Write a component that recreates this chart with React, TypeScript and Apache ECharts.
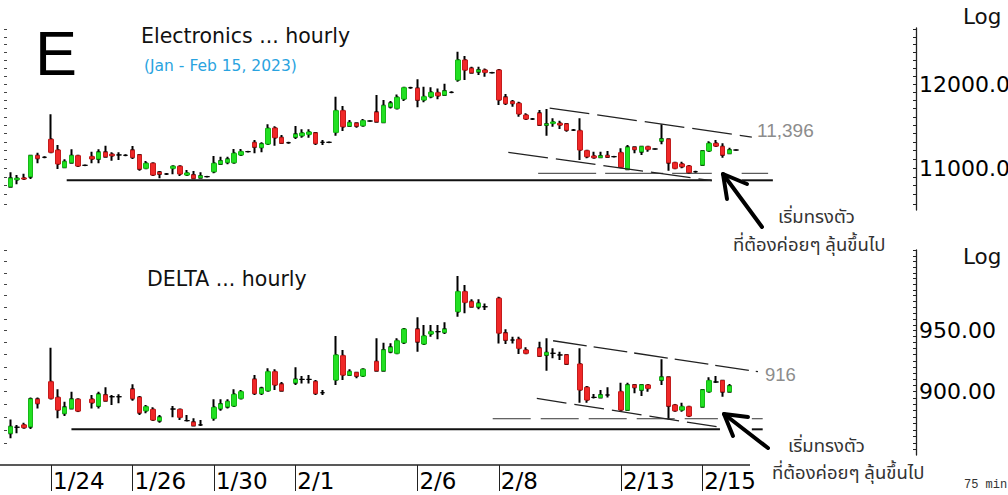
import React, { useEffect, useRef } from 'react';
import * as echarts from 'echarts';

// ---- categories (6 bars of 75 min per trading day) ----
const DAYS = ['1/23','1/24','1/25','1/26','1/27','1/30','1/31','2/1','2/2','2/3','2/6','2/7','2/8','2/9','2/10','2/13','2/14','2/15'];
const LABELED_DAYS = ['1/24','1/26','1/30','2/1','2/6','2/8','2/13','2/15'];
const BARS_PER_DAY = 6;
const EMPTY_SLOTS = 26;

// ---- Electronics (top panel) ----
const TOP_OPEN = [10789,10868,10887,10902,11141,11123,11332,11207,11008,11061,
11141,11031,11130,11104,11181,11158,11150,11146,11204,11150,
10997,11054,10951,10932,10997,11020,10921,10921,10890,10902,
10958,11046,11066,11061,11150,11188,11292,11238,11277,11465,
11351,11292,11359,11374,11391,11406,11297,11297,11414,11673,
11489,11521,11493,11549,11653,11533,11721,11701,11815,11954,
11946,11803,11843,11892,11864,11897,12050,12302,12196,12154,
12175,12141,12175,11836,11782,11762,11621,11573,11641,11501,
11521,11521,11513,11441,11433,11199,11138,11123,11141,11130,
11176,10985,11238,11188,11245,11219,11315,11332,11061,11046,
11023,10958,11035,11196,11285,11245,11169,11207];
const TOP_CLOSE = [10884,10884,10876,11141,11112,11123,11181,11046,11072,11141,
11023,11031,11104,11181,11130,11141,11150,11146,11123,10989,
11054,10921,10932,10932,11020,10932,10944,10884,10910,10902,
11054,11081,11100,11169,11188,11188,11242,11277,11461,11351,
11288,11292,11391,11406,11418,11285,11297,11297,11673,11481,
11529,11489,11553,11549,11541,11733,11762,11836,11954,11954,
11803,11843,11897,11855,11913,11897,12302,12175,12141,12175,
12146,12141,11803,11762,11762,11633,11573,11573,11501,11513,
11537,11501,11441,11441,11207,11130,11118,11138,11127,11130,
11008,11238,11215,11245,11215,11219,11335,11061,10997,11015,
10947,10958,11196,11285,11253,11150,11207,11207];
const TOP_LOW = [10789,10816,10868,10876,11054,11123,11181,10989,10997,11054,
11023,11031,11054,11054,11118,11084,11092,11146,11104,10969,
10997,10921,10884,10932,10929,10910,10913,10884,10884,10902,
10940,11035,11043,11054,11141,11188,11169,11181,11265,11257,
11288,11292,11335,11351,11351,11265,11265,11297,11374,11430,
11481,11469,11481,11549,11541,11533,11701,11701,11790,11954,
11714,11775,11823,11811,11864,11897,12029,12050,12134,12113,
12091,12141,11742,11742,11721,11601,11573,11573,11501,11374,
11481,11453,11421,11441,11092,11112,11118,11112,11118,11130,
11008,10977,11169,11150,11188,11219,11273,10969,10985,10997,
10932,10958,11035,11188,11245,11118,11169,11207];
const TOP_HIGH = [10951,10921,10936,11141,11176,11123,11629,11265,11100,11215,
11141,11031,11188,11215,11257,11181,11181,11146,11253,11158,
11081,11054,10966,10932,11020,11020,10977,10966,10951,10902,
11138,11130,11130,11219,11219,11188,11324,11297,11509,11485,
11383,11292,11489,11450,11450,11414,11324,11297,11843,11729,
11561,11521,11573,11549,11864,11803,11790,11872,11962,11954,
12059,11966,11959,11946,12004,11897,12407,12353,12217,12217,
12196,12141,12175,11876,11803,11782,11641,11573,11681,11693,
11581,11553,11521,11441,11581,11207,11188,11188,11196,11130,
11227,11265,11238,11245,11245,11219,11509,11332,11061,11072,
11023,10958,11196,11310,11324,11285,11234,11207];

// ---- DELTA (bottom panel) ----
const BOT_OPEN = [867.5,872.1,873.9,872.5,894.0,null,908.0,895.5,882.9,886.8,
894.0,null,894.0,888.7,897.4,896.0,896.0,null,901.9,895.5,
884.9,886.0,877.2,null,886.3,886.0,877.2,876.0,873.9,null,
879.0,886.8,888.1,888.7,894.7,null,909.9,898.7,900.8,916.1,
906.0,null,907.2,909.9,909.9,908.0,899.2,null,909.4,929.2,
913.4,915.3,912.6,null,924.3,916.9,932.5,931.2,940.0,null,
951.2,938.9,947.3,949.2,948.7,null,966.2,983.5,974.7,970.4,
970.4,null,977.7,948.0,942.2,942.8,933.9,null,935.3,929.8,
931.2,929.8,929.8,null,922.4,903.5,895.5,895.5,897.4,null,
900.0,885.5,905.4,901.4,905.4,null,909.4,911.7,889.5,885.5,
888.1,null,888.1,900.0,907.8,908.9,900.0,null];
const BOT_CLOSE = [872.5,872.1,871.8,894.2,890.8,null,894.7,885.5,887.6,894.0,
884.7,null,891.3,897.9,892.8,896.0,896.0,null,894.7,883.4,
888.1,877.7,879.8,null,886.3,879.8,877.2,873.4,873.9,null,
887.6,890.2,892.1,897.9,900.0,null,898.7,902.7,916.1,905.4,
900.8,null,909.9,909.9,909.9,898.7,899.2,null,929.8,913.4,
916.1,912.6,918.1,null,916.9,933.9,936.1,941.6,951.4,null,
940.8,945.6,949.2,949.2,951.2,null,983.5,974.2,970.4,973.3,
970.4,null,948.0,942.2,942.2,935.3,931.2,null,928.9,931.7,
931.2,929.8,922.4,null,901.4,893.4,895.5,897.4,897.4,null,
885.5,905.4,903.5,905.4,902.7,null,911.7,888.7,884.9,888.1,
880.8,null,901.4,908.9,907.8,900.0,904.6,null];
const BOT_LOW = [863.6,867.5,871.3,870.8,886.8,null,894.7,879.0,880.8,886.3,
884.7,null,886.8,886.8,892.8,889.5,890.8,null,892.8,881.6,
882.9,877.2,875.6,null,879.8,877.7,877.2,873.4,873.4,null,
877.2,884.9,886.8,888.7,894.7,null,897.4,897.4,900.0,901.4,
900.0,null,905.4,906.6,906.6,897.4,897.4,null,905.4,909.4,
912.6,910.8,912.6,null,916.9,916.9,931.2,931.2,938.9,null,
932.5,938.0,945.0,942.8,947.3,null,961.9,964.8,969.9,968.2,
967.6,null,939.4,938.9,939.4,930.6,931.2,null,928.9,916.9,
927.1,925.7,921.6,null,891.3,891.3,894.7,894.7,895.5,null,
884.9,884.9,898.7,896.5,900.0,null,905.4,878.2,884.9,884.2,
880.8,null,888.1,900.0,907.2,896.0,900.0,null];
const BOT_HIGH = [878.2,873.9,875.6,895.5,895.5,null,935.8,901.9,892.1,900.0,
894.0,null,897.4,900.0,903.5,897.4,897.9,null,905.9,896.5,
889.5,887.6,881.6,null,888.7,886.0,881.6,879.0,877.7,null,
894.0,894.0,894.0,901.9,901.4,null,913.5,904.0,918.9,918.1,
907.8,null,919.7,912.6,913.4,909.4,901.4,null,945.6,933.9,
918.1,915.3,919.0,null,943.6,940.0,939.5,943.6,951.4,null,
961.4,954.9,954.9,954.9,957.1,null,997.2,989.3,976.8,976.8,
973.3,null,979.1,951.2,945.0,945.0,936.1,null,940.8,943.6,
935.3,932.5,929.8,null,935.3,904.6,898.2,901.4,903.5,null,
907.2,907.2,905.4,905.4,905.4,null,926.3,911.7,889.5,891.3,
888.1,null,901.4,911.7,912.6,909.4,906.2,null];

// ---- axis ranges and tick labels ----
const TOP_RANGE = [10532, 12717];
const BOT_RANGE = [850.9, 1020.5];
const TOP_LABELS = [11000, 12000];
const BOT_LABELS = [900, 950];
const TOP_MINOR = { from: 10600, to: 12700, step: 100 };
const BOT_MINOR_RIGHT = { from: 855, to: 1020, step: 5 };
const BOT_MINOR_LEFT = { from: 860, to: 1020, step: 10 };

// ---- drawn trend lines: [bar index, price] ----
const TOP_SUPPORT = [[[8.3, 10861], [103.4, 10861]], [[107.8, 10861], [112.4, 10861]]];
const TOP_FLOOR = [[[77.8, 10940], [103.4, 10940]], [[107.8, 10940], [111.7, 10940]]];
const TOP_CHANNEL_UP = [[79.5, 11705], [109.3, 11359]];
const TOP_CHANNEL_LOW = [[73.4, 11181], [103.4, 10857]];
const BOT_SUPPORT = [[[9.0, 870.5], [104.6, 870.5]], [[109.3, 870.5], [110.9, 870.5]]];
const BOT_FLOOR = [[[71.1, 878.7], [104.3, 878.7]], [[109.3, 878.7], [110.9, 878.7]]];
const BOT_CHANNEL_UP = [[80.0, 941.6], [110.2, 916.1]];
const BOT_CHANNEL_LOW = [[77.6, 894.7], [104.6, 872.1]];

const GREEN = '#22e022';
const GREEN_EDGE = '#17b817';
const RED = '#f02828';
const RED_EDGE = '#c41c1c';
const FONT = '"DejaVu Sans", Verdana, sans-serif';
const THAI = 'Tahoma, "Noto Sans Thai", sans-serif';
const ARIAL = '"Liberation Sans", Arial, sans-serif';

const L = Math.log;

function range(r: { from: number; to: number; step: number }) {
  const out: number[] = [];
  for (let v = r.from; v <= r.to + 1e-9; v += r.step) out.push(L(v));
  return out;
}

function wickRows(o: any[], c: any[], l: any[], h: any[]) {
  return o.map((v, i) => (v == null ? ['-', '-', '-', '-'] : [L(v), L(c[i]), L(l[i]), L(h[i])]));
}
function bodyRows(o: any[], c: any[]) {
  return o.map((v, i) =>
    v == null ? ['-', '-', '-', '-'] : [L(v), L(c[i]), L(Math.min(v, c[i])), L(Math.max(v, c[i]))]
  );
}

const CATEGORIES: string[] = [];
const FIRST_LABELED = new Set<number>();
DAYS.forEach((d, di) => {
  for (let k = 0; k < BARS_PER_DAY; k++) {
    if (k === 0 && LABELED_DAYS.includes(d)) FIRST_LABELED.add(di * BARS_PER_DAY);
    CATEGORIES.push(d + '|' + k);
  }
});
for (let k = 0; k < EMPTY_SLOTS; k++) CATEGORIES.push('|' + k);
const N = CATEGORIES.length;

function lineSeries(pts: number[][], xIdx: number, yIdx: number, style: any) {
  return {
    type: 'line',
    xAxisIndex: xIdx,
    yAxisIndex: yIdx,
    data: pts.map((p) => [p[0], L(p[1])]),
    symbol: 'none',
    silent: true,
    z: 4,
    lineStyle: style,
  };
}

function candleSeries(o: any[], c: any[], l: any[], h: any[], xIdx: number, yIdx: number) {
  return [
    {
      type: 'candlestick',
      xAxisIndex: xIdx,
      yAxisIndex: yIdx,
      data: wickRows(o, c, l, h),
      barWidth: 2,
      silent: true,
      z: 2,
      itemStyle: {
        color: '#000', color0: '#000', borderColor: '#000', borderColor0: '#000',
        borderColorDoji: '#000', borderWidth: 2,
      },
    },
    {
      type: 'candlestick',
      xAxisIndex: xIdx,
      yAxisIndex: yIdx,
      data: bodyRows(o, c),
      barWidth: 5,
      silent: true,
      z: 3,
      itemStyle: {
        color: GREEN, color0: RED, borderColor: GREEN_EDGE, borderColor0: RED_EDGE,
        borderColorDoji: '#000', borderWidth: 1,
      },
    },
  ];
}

function rightAxis(grid: number, r: number[], labels: number[], minor: number[]) {
  return {
    type: 'value',
    gridIndex: grid,
    position: 'right',
    min: L(r[0]),
    max: L(r[1]),
    splitLine: { show: false },
    axisLine: { show: true, onZero: false, lineStyle: { color: '#222', width: 1.3 } },
    axisTick: { show: true, inside: true, length: 3, customValues: minor, lineStyle: { color: '#222', width: 1 } },
    axisLabel: {
      show: true,
      customValues: labels.map(L),
      margin: 3,
      color: '#000',
      fontSize: 22,
      fontFamily: FONT,
      formatter: (v: number) => Math.round(Math.exp(v)).toFixed(2),
    },
  };
}
function leftAxis(grid: number, r: number[], minor: number[]) {
  return {
    type: 'value',
    gridIndex: grid,
    position: 'left',
    min: L(r[0]),
    max: L(r[1]),
    splitLine: { show: false },
    axisLine: { show: false, onZero: false },
    axisTick: { show: true, inside: false, length: 3, customValues: minor, lineStyle: { color: '#444', width: 1 } },
    axisLabel: { show: false },
  };
}

const textEl = (text: string, x: number, y: number, size: number, fill: string, family = FONT) => ({
  type: 'text',
  x,
  y,
  silent: true,
  style: {
    text,
    fill,
    fontSize: size,
    fontFamily: family,
    align: 'left',
    verticalAlign: 'middle',
    textAlign: 'left',
    textVerticalAlign: 'middle',
  },
});
const poly = (points: number[][], w: number) => ({
  type: 'polyline',
  silent: true,
  shape: { points },
  style: { stroke: '#000', lineWidth: w, lineCap: 'round', lineJoin: 'round', fill: null },
});

export default function App() {
  const ref = useRef<HTMLDivElement>(null);
  useEffect(() => {
    document.body.style.margin = '0';
    if (!ref.current) return;
    const chart = echarts.init(ref.current, undefined, { renderer: 'svg' });
    const showTick = (i: number) => FIRST_LABELED.has(i);
    const solid = { color: '#111', width: 2, type: 'solid' };
    const option: any = {
      animation: false,
      backgroundColor: '#fff',
      grid: [
        { left: 7, right: 92, top: 28, height: 182, containLabel: false, outerBoundsMode: 'none' },
        { left: 7, right: 92, top: 250, height: 205, containLabel: false, outerBoundsMode: 'none' },
      ],
      xAxis: [
        { type: 'category', gridIndex: 0, data: CATEGORIES, show: false },
        {
          type: 'category',
          gridIndex: 1,
          data: CATEGORIES,
          offset: 10,
          axisLine: { show: false, onZero: false },
          splitLine: { show: false },
          axisTick: { show: true, alignWithLabel: true, interval: showTick, length: 26, lineStyle: { color: '#222', width: 1 } },
          axisLabel: {
            show: true,
            interval: showTick,
            align: 'left',
            margin: 4,
            padding: [0, 0, 0, 2],
            color: '#000',
            fontSize: 23,
            fontFamily: FONT,
            formatter: (v: string) => v.split('|')[0],
          },
        },
        { type: 'value', gridIndex: 0, min: -0.5, max: N - 0.5, show: false, axisLine: { onZero: false } },
        { type: 'value', gridIndex: 1, min: -0.5, max: N - 0.5, show: false, axisLine: { onZero: false } },
      ],
      yAxis: [
        rightAxis(0, TOP_RANGE, TOP_LABELS, range(TOP_MINOR)),
        leftAxis(0, TOP_RANGE, range(TOP_MINOR)),
        rightAxis(1, BOT_RANGE, BOT_LABELS, range(BOT_MINOR_RIGHT)),
        leftAxis(1, BOT_RANGE, range(BOT_MINOR_LEFT)),
      ],
      series: [
        ...candleSeries(TOP_OPEN, TOP_CLOSE, TOP_LOW, TOP_HIGH, 0, 0),
        ...candleSeries(BOT_OPEN, BOT_CLOSE, BOT_LOW, BOT_HIGH, 1, 2),
        ...TOP_SUPPORT.map((s) => lineSeries(s, 2, 0, solid)),
        ...TOP_FLOOR.map((s) => lineSeries(s, 2, 0, { color: '#333', width: 1, type: [58, 9] })),
        lineSeries(TOP_CHANNEL_UP, 2, 0, { color: '#222', width: 1.3, type: [40, 8] }),
        lineSeries(TOP_CHANNEL_LOW, 2, 0, { color: '#222', width: 1.3, type: [40, 8] }),
        ...BOT_SUPPORT.map((s) => lineSeries(s, 3, 2, solid)),
        ...BOT_FLOOR.map((s) => lineSeries(s, 3, 2, { color: '#333', width: 1, type: [38, 10] })),
        lineSeries(BOT_CHANNEL_UP, 3, 2, { color: '#222', width: 1.3, type: [34, 7] }),
        lineSeries(BOT_CHANNEL_LOW, 3, 2, { color: '#222', width: 1.3, type: [30, 8] }),
      ],
      graphic: {
        elements: [
          { type: 'line', silent: true, shape: { x1: 0, y1: 465, x2: 750, y2: 465 }, style: { stroke: '#222', lineWidth: 1.5 } },
          textEl('E', 35, 53, 63, '#000', ARIAL),
          textEl('Electronics ... hourly', 141, 36, 20.5, '#111'),
          textEl('(Jan - Feb 15, 2023)', 144, 65.5, 15.5, '#29a3e0'),
          textEl('DELTA ... hourly', 147, 279, 20.5, '#111'),
          textEl('Log', 963, 16, 21.5, '#111'),
          textEl('Log', 963, 256, 21.5, '#111'),
          textEl('11,396', 757, 130, 19, '#8c8c8c', ARIAL),
          textEl('916', 765, 374, 18.5, '#8c8c8c', ARIAL),
          textEl('เริ่มทรงตัว', 778, 217, 18.5, '#333', THAI),
          textEl('ที่ต้องค่อยๆ ลุ้นขึ้นไป', 733, 245, 18.5, '#333', THAI),
          textEl('เริ่มทรงตัว', 788, 446, 18.5, '#333', THAI),
          textEl('ที่ต้องค่อยๆ ลุ้นขึ้นไป', 772, 473, 18.5, '#333', THAI),
          textEl('75 min', 964, 485, 12, '#333', '"Liberation Mono", "DejaVu Sans Mono", monospace'),
          poly([[762, 227], [723, 174]], 4),
          poly([[747, 184], [723, 174], [727, 199]], 4),
          poly([[768, 448], [724, 414]], 4),
          poly([[748, 417], [724, 414], [733, 436]], 4),
        ],
      },
    };
    chart.setOption(option);
    return () => chart.dispose();
  }, []);
  return <div ref={ref} style={{ width: 1008, height: 495 }} />;
}
